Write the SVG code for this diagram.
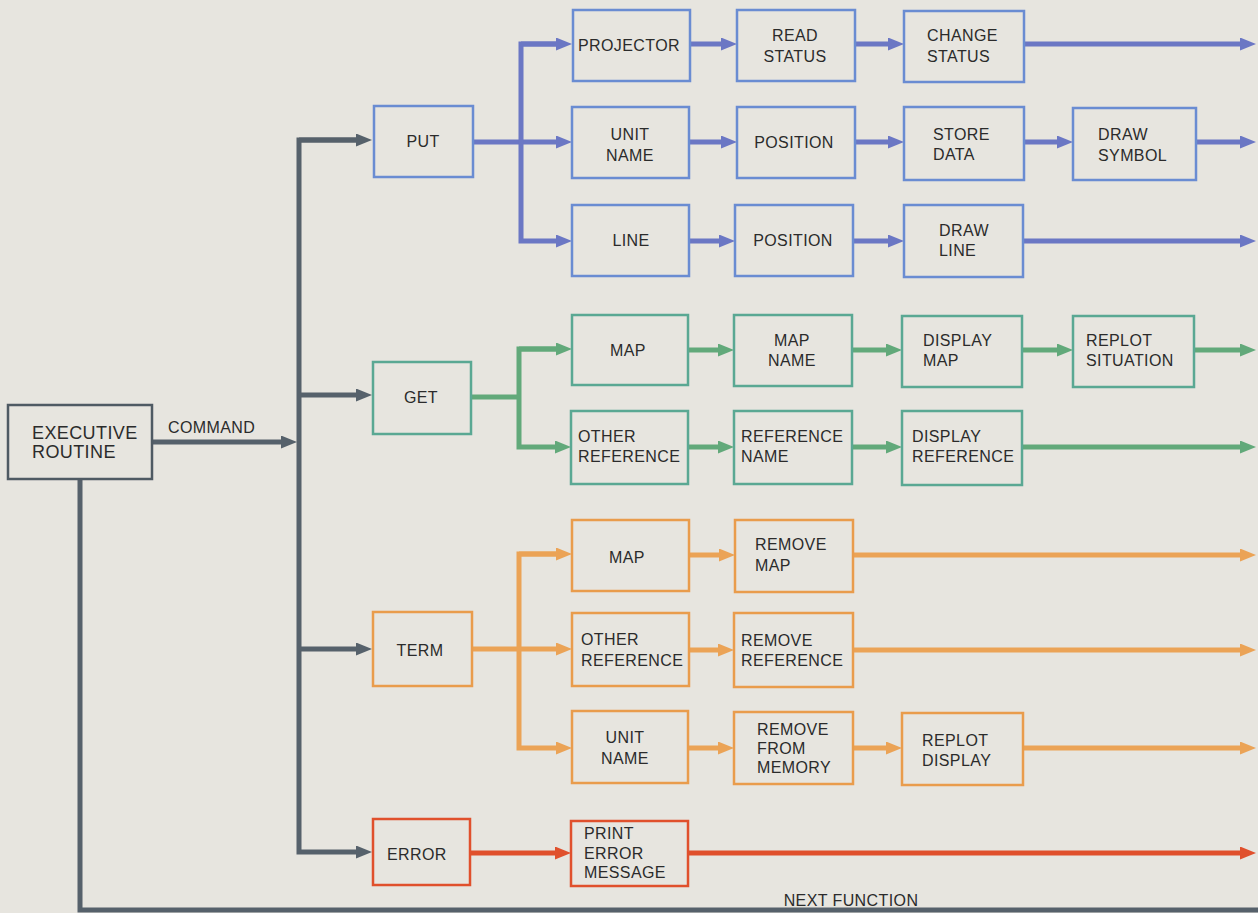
<svg xmlns="http://www.w3.org/2000/svg" width="1258" height="913" viewBox="0 0 1258 913">
<style>
text{font-family:"Liberation Sans",Arial,sans-serif;font-size:16px;fill:#2b2b2b;letter-spacing:0.4px}
.m{text-anchor:middle}
rect.box{fill:none;stroke-width:2.5}
.gy{stroke:#4f5a63}
.bl{stroke:#6a8cd2}
.gr{stroke:#5aa893}
.or{stroke:#e99c4c}
.rd{stroke:#e0502c}
path{fill:none;stroke-width:5}
.cgy{stroke:#56616b}
.cbl{stroke:#6b77c4}
.cgr{stroke:#62a97a}
.cor{stroke:#eba356}
.crd{stroke:#e0502c}
</style>
<defs>
<marker id="agy" markerUnits="userSpaceOnUse" markerWidth="16" markerHeight="13" refX="4" refY="6.5" orient="auto"><path d="M0,0 L16,6.5 L0,13 z" style="fill:#56616b;stroke:none"/></marker>
<marker id="abl" markerUnits="userSpaceOnUse" markerWidth="16" markerHeight="13" refX="4" refY="6.5" orient="auto"><path d="M0,0 L16,6.5 L0,13 z" style="fill:#6b77c4;stroke:none"/></marker>
<marker id="agr" markerUnits="userSpaceOnUse" markerWidth="16" markerHeight="13" refX="4" refY="6.5" orient="auto"><path d="M0,0 L16,6.5 L0,13 z" style="fill:#62a97a;stroke:none"/></marker>
<marker id="aor" markerUnits="userSpaceOnUse" markerWidth="16" markerHeight="13" refX="4" refY="6.5" orient="auto"><path d="M0,0 L16,6.5 L0,13 z" style="fill:#eba356;stroke:none"/></marker>
<marker id="ard" markerUnits="userSpaceOnUse" markerWidth="16" markerHeight="13" refX="4" refY="6.5" orient="auto"><path d="M0,0 L16,6.5 L0,13 z" style="fill:#e0502c;stroke:none"/></marker>
</defs>
<rect x="0" y="0" width="1258" height="913" fill="#e7e5df"/>

<g id="connectors">
<!-- gray -->
<path class="cgy" d="M152,442 H285" marker-end="url(#agy)"/>
<path class="cgy" d="M360,140 H299 V852 H360" marker-end="url(#agy)"/>
<path class="cgy" d="M299,140 H360" marker-end="url(#agy)"/>
<path class="cgy" d="M299,395 H360" marker-end="url(#agy)"/>
<path class="cgy" d="M299,649 H360" marker-end="url(#agy)"/>
<path class="cgy" d="M80,479 V910 H1258"/>
<!-- blue -->
<path class="cbl" d="M473,142 H560" marker-end="url(#abl)"/>
<path class="cbl" d="M560,44 H521 V241 H560" marker-end="url(#abl)"/>
<path class="cbl" d="M521,44 H560" marker-end="url(#abl)"/>
<path class="cbl" d="M690,44 H725" marker-end="url(#abl)"/>
<path class="cbl" d="M855,44 H892" marker-end="url(#abl)"/>
<path class="cbl" d="M1024,44 H1244" marker-end="url(#abl)"/>
<path class="cbl" d="M689,142 H725" marker-end="url(#abl)"/>
<path class="cbl" d="M855,142 H892" marker-end="url(#abl)"/>
<path class="cbl" d="M1024,142 H1061" marker-end="url(#abl)"/>
<path class="cbl" d="M1196,142 H1244" marker-end="url(#abl)"/>
<path class="cbl" d="M689,241 H723" marker-end="url(#abl)"/>
<path class="cbl" d="M853,241 H892" marker-end="url(#abl)"/>
<path class="cbl" d="M1023,241 H1244" marker-end="url(#abl)"/>
<!-- green -->
<path class="cgr" d="M471,397 H519"/>
<path class="cgr" d="M560,349 H519 V447 H559" marker-end="url(#agr)"/>
<path class="cgr" d="M519,349 H560" marker-end="url(#agr)"/>
<path class="cgr" d="M688,350 H722" marker-end="url(#agr)"/>
<path class="cgr" d="M852,350 H890" marker-end="url(#agr)"/>
<path class="cgr" d="M1022,350 H1061" marker-end="url(#agr)"/>
<path class="cgr" d="M1194,350 H1244" marker-end="url(#agr)"/>
<path class="cgr" d="M688,447 H722" marker-end="url(#agr)"/>
<path class="cgr" d="M852,447 H890" marker-end="url(#agr)"/>
<path class="cgr" d="M1022,447 H1244" marker-end="url(#agr)"/>
<!-- orange -->
<path class="cor" d="M472,649 H560" marker-end="url(#aor)"/>
<path class="cor" d="M560,554 H519 V748 H560" marker-end="url(#aor)"/>
<path class="cor" d="M519,554 H560" marker-end="url(#aor)"/>
<path class="cor" d="M689,555 H723" marker-end="url(#aor)"/>
<path class="cor" d="M853,555 H1244" marker-end="url(#aor)"/>
<path class="cor" d="M689,650 H722" marker-end="url(#aor)"/>
<path class="cor" d="M853,650 H1244" marker-end="url(#aor)"/>
<path class="cor" d="M688,748 H722" marker-end="url(#aor)"/>
<path class="cor" d="M853,748 H890" marker-end="url(#aor)"/>
<path class="cor" d="M1023,748 H1244" marker-end="url(#aor)"/>
<!-- red -->
<path class="crd" d="M470,853 H559" marker-end="url(#ard)"/>
<path class="crd" d="M688,853 H1244" marker-end="url(#ard)"/>
<text x="168" y="433">COMMAND</text>
<text class="m" x="851" y="906">NEXT FUNCTION</text>
</g>

<g id="exec"><rect class="box gy" x="8" y="405" width="144" height="74"/><text x="32" y="439" style="font-size:18px">EXECUTIVE</text><text x="32" y="458" style="font-size:18px">ROUTINE</text></g>

<g id="put"><rect class="box bl" x="374" y="106" width="99" height="71"/><text class="m" x="423" y="147">PUT</text></g>
<g id="put-projector"><rect class="box bl" x="573" y="10" width="117" height="71"/><text class="m" x="629" y="51">PROJECTOR</text></g>
<g id="put-readstatus"><rect class="box bl" x="737" y="10" width="118" height="71"/><text class="m" x="795" y="41">READ</text><text class="m" x="795" y="62">STATUS</text></g>
<g id="put-changestatus"><rect class="box bl" x="904" y="11" width="120" height="71"/><text x="927" y="41">CHANGE</text><text x="927" y="62">STATUS</text></g>
<g id="put-unitname"><rect class="box bl" x="572" y="107" width="117" height="71"/><text class="m" x="630" y="140">UNIT</text><text class="m" x="630" y="161">NAME</text></g>
<g id="put-position1"><rect class="box bl" x="737" y="107" width="118" height="71"/><text class="m" x="794" y="148">POSITION</text></g>
<g id="put-storedata"><rect class="box bl" x="904" y="107" width="120" height="73"/><text x="933" y="140">STORE</text><text x="933" y="160">DATA</text></g>
<g id="put-drawsymbol"><rect class="box bl" x="1073" y="108" width="123" height="72"/><text x="1098" y="140">DRAW</text><text x="1098" y="161">SYMBOL</text></g>
<g id="put-line"><rect class="box bl" x="572" y="205" width="117" height="71"/><text class="m" x="631" y="246">LINE</text></g>
<g id="put-position2"><rect class="box bl" x="735" y="205" width="118" height="71"/><text class="m" x="793" y="246">POSITION</text></g>
<g id="put-drawline"><rect class="box bl" x="904" y="205" width="119" height="72"/><text x="939" y="236">DRAW</text><text x="939" y="256">LINE</text></g>

<g id="get"><rect class="box gr" x="373" y="362" width="98" height="72"/><text class="m" x="421" y="403">GET</text></g>
<g id="get-map"><rect class="box gr" x="572" y="315" width="116" height="70"/><text class="m" x="628" y="356">MAP</text></g>
<g id="get-mapname"><rect class="box gr" x="734" y="315" width="118" height="71"/><text class="m" x="792" y="346">MAP</text><text class="m" x="792" y="366">NAME</text></g>
<g id="get-displaymap"><rect class="box gr" x="902" y="316" width="120" height="71"/><text x="923" y="346">DISPLAY</text><text x="923" y="366">MAP</text></g>
<g id="get-replotsituation"><rect class="box gr" x="1073" y="316" width="121" height="71"/><text x="1086" y="346">REPLOT</text><text x="1086" y="366">SITUATION</text></g>
<g id="get-otherref"><rect class="box gr" x="571" y="411" width="117" height="73"/><text x="578" y="442">OTHER</text><text x="578" y="462">REFERENCE</text></g>
<g id="get-refname"><rect class="box gr" x="734" y="411" width="118" height="73"/><text x="741" y="442">REFERENCE</text><text x="741" y="462">NAME</text></g>
<g id="get-displayref"><rect class="box gr" x="902" y="411" width="120" height="74"/><text x="912" y="442">DISPLAY</text><text x="912" y="462">REFERENCE</text></g>

<g id="term"><rect class="box or" x="373" y="612" width="99" height="74"/><text class="m" x="420" y="656">TERM</text></g>
<g id="term-map"><rect class="box or" x="572" y="520" width="117" height="71"/><text class="m" x="627" y="563">MAP</text></g>
<g id="term-removemap"><rect class="box or" x="735" y="520" width="118" height="72"/><text x="755" y="550">REMOVE</text><text x="755" y="571">MAP</text></g>
<g id="term-otherref"><rect class="box or" x="572" y="613" width="117" height="73"/><text x="581" y="645">OTHER</text><text x="581" y="666">REFERENCE</text></g>
<g id="term-removeref"><rect class="box or" x="734" y="613" width="119" height="74"/><text x="741" y="646">REMOVE</text><text x="741" y="666">REFERENCE</text></g>
<g id="term-unitname"><rect class="box or" x="572" y="711" width="116" height="72"/><text class="m" x="625" y="743">UNIT</text><text class="m" x="625" y="764">NAME</text></g>
<g id="term-removememory"><rect class="box or" x="734" y="712" width="119" height="72"/><text x="757" y="735">REMOVE</text><text x="757" y="754">FROM</text><text x="757" y="773">MEMORY</text></g>
<g id="term-replotdisplay"><rect class="box or" x="902" y="713" width="121" height="72"/><text x="922" y="746">REPLOT</text><text x="922" y="766">DISPLAY</text></g>

<g id="error"><rect class="box rd" x="373" y="819" width="97" height="66"/><text x="387" y="860">ERROR</text></g>
<g id="error-print"><rect class="box rd" x="571" y="821" width="117" height="65"/><text x="584" y="839">PRINT</text><text x="584" y="859">ERROR</text><text x="584" y="878">MESSAGE</text></g>
</svg>
